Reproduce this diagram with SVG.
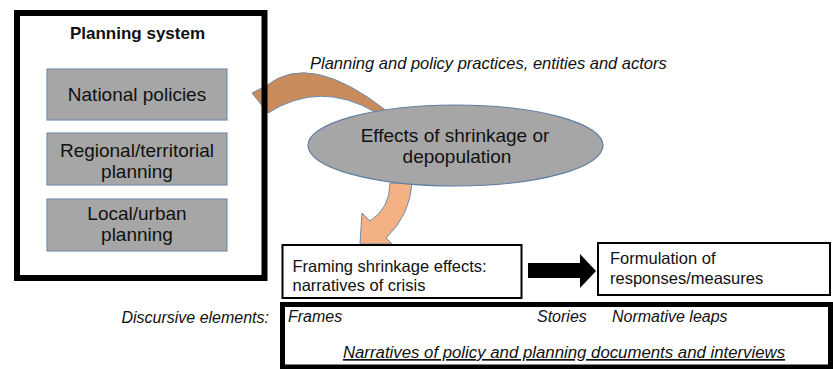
<svg xmlns="http://www.w3.org/2000/svg" width="833" height="369" viewBox="0 0 833 369">
<style>
text{font-family:"Liberation Sans",Arial,sans-serif;fill:#111}
.it{font-style:italic}
.gbox{fill:#a6a6a6;stroke:#7590ad;stroke-width:1.2}
.wbox{fill:#fff;stroke:#000;stroke-width:2}
.thick{fill:none;stroke:#000;stroke-width:6}
.c{text-anchor:middle}
</style>
<rect width="833" height="369" fill="#fff"/>
<g id="connectors">
<path id="arrow-policy" d="M252,93 L266,86 Q310,50 388,112 L375,112 Q320,80 268,113 Z" fill="#c98a5c" stroke="#6d8bab" stroke-width="1"/>
<path id="arrow-framing" d="M390,183 Q390,208 370,221 L362,213 L360,244 L392,244 L386,238 Q410,215 412,183 Z" fill="#f4b183" stroke="#6d8bab" stroke-width="1"/>
<path id="arrow-black" d="M528,263 L580,263 L580,254 L596,271 L580,288 L580,278 L528,278 Z" fill="#000"/>
</g>
<g id="planning-system">
<rect x="17" y="13" width="247.5" height="265" class="thick"/>
<text x="137.5" y="39" class="c" font-size="17" font-weight="bold">Planning system</text>
</g>
<g id="national">
<rect x="47" y="69" width="180" height="51" class="gbox"/>
<text x="137" y="101" class="c" font-size="19">National policies</text>
</g>
<g id="regional">
<rect x="47" y="133" width="180" height="52" class="gbox"/>
<text x="137" y="157" class="c" font-size="19">Regional/territorial</text>
<text x="137" y="178" class="c" font-size="19">planning</text>
</g>
<g id="local">
<rect x="47" y="199" width="180" height="52" class="gbox"/>
<text x="137" y="220" class="c" font-size="19">Local/urban</text>
<text x="137" y="241" class="c" font-size="19">planning</text>
</g>
<g id="practices-label">
<text x="310" y="69" class="it" font-size="16.5">Planning and policy practices, entities and actors</text>
</g>
<g id="effects">
<ellipse cx="455.5" cy="145.5" rx="147.5" ry="40.5" fill="#a6a6a6" stroke="#5f7fa2" stroke-width="1.2"/>
<text x="455" y="142" class="c" font-size="19">Effects of shrinkage or</text>
<text x="457" y="163" class="c" font-size="19">depopulation</text>
</g>
<g id="framing">
<rect x="282.5" y="245" width="239" height="53" class="wbox"/>
<text x="292.5" y="272" font-size="16.5">Framing shrinkage effects:</text>
<text x="292.5" y="291" font-size="16.5">narratives of crisis</text>
</g>
<g id="formulation">
<rect x="598" y="243" width="232" height="52" class="wbox"/>
<text x="610" y="264" font-size="16.5">Formulation of</text>
<text x="610" y="284" font-size="16.5">responses/measures</text>
</g>
<g id="discursive-label">
<text x="269" y="323" class="it" font-size="16" text-anchor="end">Discursive elements:</text>
</g>
<g id="narratives">
<rect x="282.5" y="304.5" width="548" height="62.5" fill="none" stroke="#000" stroke-width="5"/>
<text x="288" y="322" class="it" font-size="16">Frames</text>
<text x="537" y="322" class="it" font-size="16">Stories</text>
<text x="612" y="322" class="it" font-size="16">Normative leaps</text>
<text x="564" y="358" class="it c" font-size="16.8" text-decoration="underline">Narratives of policy and planning documents and interviews</text>
</g>
</svg>
